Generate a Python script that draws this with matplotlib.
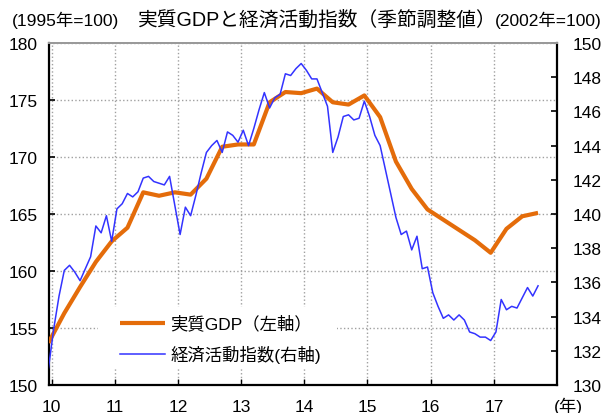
import matplotlib
matplotlib.use("Agg")
import matplotlib.pyplot as plt
import numpy as np
from matplotlib.patches import Rectangle

plt.rcParams['font.family'] = ['Liberation Sans', 'Noto Sans CJK JP']

# Real GDP, quarterly, seasonally adjusted (1995 = 100), left axis
gdp = [153.7, 156.3, 158.6, 160.8, 162.6, 163.8, 166.9, 166.6,
       166.9, 166.7, 168.1, 170.9, 171.1, 171.1, 174.8, 175.7,
       175.6, 176.0, 174.8, 174.6, 175.4, 173.5, 169.6, 167.2,
       165.4, 164.5, 163.6, 162.7, 161.6, 163.7, 164.8, 165.1]

# Economic activity index, monthly, seasonally adjusted (2002 = 100), right axis
activity = [131.0, 133.3, 135.2, 136.7, 137.0, 136.6, 136.1, 136.8, 137.5, 139.3,
            138.9, 139.9, 138.4, 140.3, 140.6, 141.2, 141.0, 141.3, 142.1, 142.2,
            141.9, 141.8, 141.7, 142.2, 140.5, 138.8, 140.4, 139.9, 141.1, 142.4,
            143.6, 144.0, 144.3, 143.6, 144.8, 144.6, 144.2, 144.9, 144.0, 145.0,
            146.1, 147.1, 146.2, 146.8, 147.0, 148.2, 148.1, 148.5, 148.8, 148.4,
            147.9, 147.9, 147.1, 146.3, 143.6, 144.5, 145.7, 145.8, 145.5, 145.6,
            146.6, 145.7, 144.6, 144.0, 142.6, 141.2, 139.8, 138.8, 139.0, 137.9,
            138.7, 136.8, 136.9, 135.4, 134.6, 133.9, 134.1, 133.8, 134.1, 133.8,
            133.1, 133.0, 132.8, 132.8, 132.6, 133.1, 135.0, 134.4, 134.6, 134.5,
            135.1, 135.7, 135.2, 135.8]

year_ticks = [10, 11, 12, 13, 14, 15, 16, 17]
year_labels = ['10', '11', '12', '13', '14', '15', '16', '17']
left_ticks = [150, 155, 160, 165, 170, 175, 180]
right_ticks = [130, 132, 134, 136, 138, 140, 142, 144, 146, 148, 150]

label_gdp = '実質GDP（左軸）'
label_act = '経済活動指数(右軸)'
title = '実質GDPと経済活動指数（季節調整値）'
left_unit = '(1995年=100)'
right_unit = '(2002年=100)'
year_unit = '(年)'

start = 9.95
xq = start + 0.25 * np.arange(len(gdp))
xm = start + np.arange(len(activity)) / 12.0

W, H = 603, 414
fig = plt.figure(figsize=(W / 100, H / 100), dpi=100)
ax = fig.add_axes([48.5 / W, (H - 386) / H, (557 - 48.5) / W, (386 - 44) / H])
ax2 = ax.twinx()

orange = '#E46C0A'
blue = '#3333FF'
fs = 12.5

l1, = ax.plot(xq, gdp, color=orange, lw=3.0, solid_joinstyle='round',
              solid_capstyle='butt', zorder=3)
l2, = ax2.plot(xm, activity, color=blue, lw=1.1, zorder=3)

ax.set_xlim(start, 18.0)
ax.set_ylim(150, 180)
ax2.set_ylim(130, 150)
ax.set_xticks(year_ticks)
ax.set_xticklabels(year_labels)
ax.set_yticks(left_ticks)
ax2.set_yticks(right_ticks)

ax.grid(True, linestyle=':', color='#a0a0a0', linewidth=1.0)
ax.add_patch(Rectangle((0.0973, 0.0468), 0.47, 0.181, transform=ax.transAxes,
                       facecolor='white', edgecolor='none', zorder=1.8))

for a in (ax, ax2):
    for s in a.spines.values():
        s.set_linewidth(1.6)
        s.set_color('black')
    a.spines['top'].set_color('#9a9a9a')
    a.spines['top'].set_linewidth(1.4)
ax.spines['right'].set_visible(False)
ax2.spines['left'].set_visible(False)
ax2.spines['bottom'].set_visible(False)

ax.tick_params(axis='y', direction='in', length=4, width=1.2, labelsize=fs,
               pad=8, right=False, left=True)
ax.tick_params(axis='x', direction='in', length=4, width=1.0, labelsize=fs,
               pad=10, top=False)
ax2.tick_params(axis='y', direction='in', length=4, width=1.2, labelsize=fs,
                pad=11.5)

ax2.legend([l1, l2], [label_gdp, label_act], loc='upper left',
           bbox_to_anchor=(120 / W, 1 - 316 / H), bbox_transform=fig.transFigure,
           frameon=False, borderpad=0, borderaxespad=0, handlelength=2.6,
           handletextpad=0.3, labelspacing=0.75, fontsize=fs)

fig.text(317.5 / W, 1 - 20 / H, title, ha='center', va='center', fontsize=14.2)
fig.text(12 / W, 1 - 20 / H, left_unit, ha='left', va='center', fontsize=fs)
fig.text(602 / W, 1 - 20 / H, right_unit, ha='right', va='center', fontsize=fs)
fig.text(568 / W, 1 - 406 / H, year_unit, ha='center', va='center', fontsize=fs)

fig.savefig('out.png', dpi=100)
